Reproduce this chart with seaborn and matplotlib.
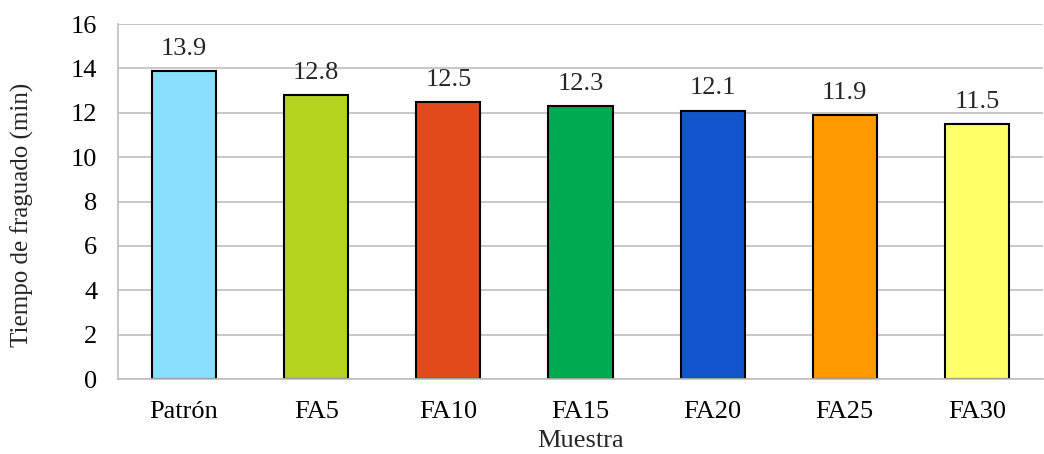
import matplotlib
matplotlib.use("Agg")
import matplotlib.pyplot as plt
import seaborn as sns
import pandas as pd

muestras = ["Patrón", "FA5", "FA10", "FA15", "FA20", "FA25", "FA30"]
tiempos = [13.9, 12.8, 12.5, 12.3, 12.1, 11.9, 11.5]
colores = ["#89DFFD", "#B2D41E", "#E24A1C", "#00AB50", "#1155CC", "#FF9900", "#FFFF66"]
y_ticks = [0, 2, 4, 6, 8, 10, 12, 14, 16]

sns.set_theme(style="white")
plt.rcParams["font.family"] = ["Liberation Serif", "DejaVu Serif"]

FS = 19

df = pd.DataFrame({"Muestra": muestras, "Tiempo": tiempos})

fig = plt.figure(figsize=(10.44, 4.54), dpi=100)
ax = fig.add_axes([0.113, 0.165, 0.886, 0.782])

sns.barplot(data=df, x="Muestra", y="Tiempo", hue="Muestra", palette=colores,
            legend=False, width=0.485, edgecolor="black", linewidth=1.5,
            saturation=1, ax=ax)

ax.set_ylim(0, 16)
ax.set_yticks(y_ticks)
ax.set_xlim(-0.5, len(muestras) - 0.5)
ax.yaxis.grid(True, color="#BFBFBF", linewidth=1.2)
ax.set_axisbelow(True)

for s in ["top", "right"]:
    ax.spines[s].set_visible(False)
for s in ["left", "bottom"]:
    ax.spines[s].set_color("#BFBFBF")
    ax.spines[s].set_linewidth(1.2)

ax.tick_params(axis="both", length=0, labelsize=FS, colors="black")
ax.tick_params(axis="y", pad=15)
ax.tick_params(axis="x", pad=16)

for i, v in enumerate(tiempos):
    ax.annotate(f"{v}", (i, v), xytext=(0, 8), textcoords="offset points",
                ha="center", va="bottom", fontsize=FS)

ax.set_xlabel("Muestra", fontsize=FS, labelpad=5)
ax.set_ylabel("Tiempo de fraguado (min)", fontsize=18)
ax.yaxis.set_label_coords(-0.091, 0.463)

fig.savefig("out.png", dpi=100)
